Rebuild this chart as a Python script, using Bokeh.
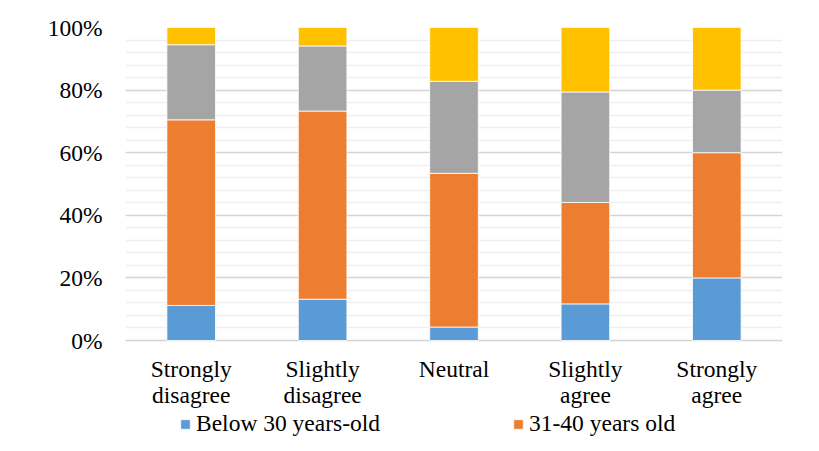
from bokeh.plotting import figure
from bokeh.models import (ColumnDataSource, FactorRange, Range1d, Legend, LegendItem,
                          FixedTicker, PrintfTickFormatter)
from bokeh.core.properties import value
from bokeh.embed import file_html
from bokeh.resources import INLINE

categories = ["Strongly disagree", "Slightly disagree", "Neutral", "Slightly agree", "Strongly agree"]
label_line1 = ["Strongly", "Slightly", "Neutral", "Slightly", "Strongly"]
label_line2 = ["disagree", "disagree", "", "agree", "agree"]
series_names = ["Below 30 years-old", "31-40 years old", "41-50 years old", "Above 50 years old"]
below_30 = [11.2, 13.2, 4.3, 11.7, 20.0]
age_31_40 = [59.3, 60.1, 49.1, 32.4, 40.0]
age_41_50 = [24.0, 20.8, 29.4, 35.3, 20.0]
above_50 = [5.5, 5.9, 17.2, 20.6, 20.0]
colors = ["#5B9BD5", "#ED7D31", "#A5A5A5", "#FFC000"]
legend_shown = ["Below 30 years-old", "31-40 years old"]
y_ticks = [0, 20, 40, 60, 80, 100]
y_minor = [4, 8, 12, 16, 24, 28, 32, 36, 44, 48, 52, 56, 64, 68, 72, 76, 84, 88, 92, 96]

keys = ["s0", "s1", "s2", "s3"]
source = ColumnDataSource(dict(cat=categories, s0=below_30, s1=age_31_40, s2=age_41_50, s3=above_50))
lab_src = ColumnDataSource(dict(cat=categories, l1=label_line1, l2=label_line2))

FONT = "Liberation Serif"
FS = "23.5px"

plot_px = 313        # pixel height of the 0-100% area
bottom_px = 111      # pixel space below 0% for category labels and legend
px_per_unit = plot_px / 100.0

p = figure(frame_width=657, frame_height=plot_px + bottom_px,
           x_range=FactorRange(*categories), y_range=Range1d(-bottom_px / px_per_unit, 100),
           x_axis_location=None, output_backend="svg", toolbar_location=None,
           min_border_left=125, min_border_right=30, min_border_top=27, min_border_bottom=0)
p.outline_line_color = None
p.background_fill_color = "white"
p.border_fill_color = "white"

renderers = p.vbar_stack(keys, x="cat", width=0.37, color=colors, source=source,
                         line_color="white", line_width=0.8)

# grid
p.ygrid.ticker = FixedTicker(ticks=y_ticks, minor_ticks=y_minor)
p.ygrid.grid_line_color = "#D4D4D4"
p.ygrid.grid_line_width = 1.4
p.ygrid.minor_grid_line_color = "#EFEFEF"
p.ygrid.minor_grid_line_width = 1.3
p.xgrid.grid_line_color = None

# y axis
p.yaxis.ticker = FixedTicker(ticks=y_ticks)
p.yaxis.formatter = PrintfTickFormatter(format="%d%%")
p.yaxis.axis_line_color = None
p.yaxis.major_tick_line_color = None
p.yaxis.minor_tick_line_color = None
p.yaxis.major_tick_out = 0
p.yaxis.major_label_standoff = 23
p.yaxis.major_label_text_font = FONT
p.yaxis.major_label_text_font_size = FS
p.yaxis.major_label_text_color = "black"

# category labels (two lines) below the 0% line
p.text(x="cat", y=-28 / px_per_unit, text="l1", source=lab_src, text_align="center",
       text_baseline="alphabetic", text_font=value(FONT), text_font_size=FS, text_color="black")
p.text(x="cat", y=-54 / px_per_unit, text="l2", source=lab_src, text_align="center",
       text_baseline="alphabetic", text_font=value(FONT), text_font_size=FS, text_color="black")

items = [LegendItem(label=name, renderers=[renderers[series_names.index(name)]]) for name in legend_shown]
legend = Legend(items=items, orientation="horizontal", location=(54, 14),
                glyph_width=12, glyph_height=12, label_standoff=5, label_width=194, spacing=122,
                padding=0, margin=0, border_line_color=None, background_fill_alpha=0,
                label_text_font=FONT, label_text_font_size=FS, label_text_color="black")
p.add_layout(legend, "center")

open("out.html", "w").write(file_html(p, INLINE))
